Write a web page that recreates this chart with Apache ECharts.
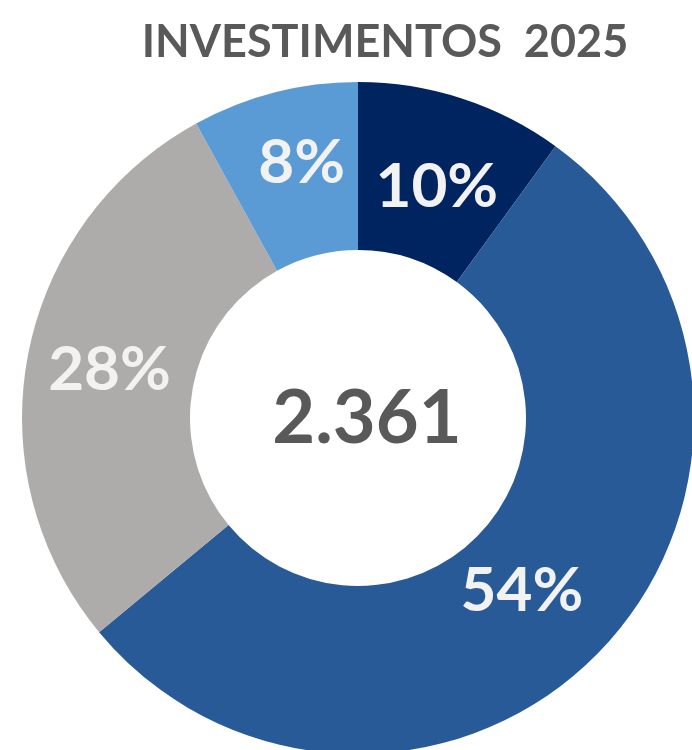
<!DOCTYPE html>
<html>
<head>
<meta charset="utf-8">
<script src="https://cdn.jsdelivr.net/npm/echarts@6/dist/echarts.min.js"></script>
<style>
  html, body { margin: 0; padding: 0; background: #ffffff; }
  #chart { width: 692px; height: 750px; }
</style>
</head>
<body>
<div id="chart"></div>
<script>
// Investment split for 2025, in clockwise order from the top
const categories = ['A', 'B', 'C', 'D'];
const shares = [10, 54, 28, 8];
const sliceColors = ['#002460', '#285A98', '#AEABAB', '#5A9BD5'];
const totalLabel = '2.361';
const chartTitle = 'INVESTIMENTOS  2025';

const FONT = 'Lato, "Open Sans", sans-serif';

// Small nudges for the percentage labels inside each slice
const labelNudge = [[0, 12], [-22, -2], [2, 0], [7, -8]];

const chart = echarts.init(document.getElementById('chart'), null, { renderer: 'canvas' });

chart.setOption({
  backgroundColor: '#ffffff',
  animation: false,
  title: [
    {
      text: chartTitle,
      left: 380,
      top: 15,
      textAlign: 'center',
      textStyle: { fontFamily: FONT, fontWeight: 'bold', fontSize: 45, color: '#595959' }
    },
    {
      text: totalLabel,
      left: 362,
      top: 377,
      textAlign: 'center',
      textStyle: { fontFamily: FONT, fontWeight: 'bold', fontSize: 74, color: '#595959' }
    }
  ],
  series: [{
    type: 'pie',
    center: [358, 418],
    radius: [168, 336],
    startAngle: 90,
    clockwise: true,
    silent: true,
    label: {
      show: true,
      position: 'inside',
      formatter: '{c}%',
      fontFamily: FONT,
      fontWeight: 'bold',
      fontSize: 62,
      color: '#F2F2F2'
    },
    labelLayout: function (params) {
      const n = labelNudge[params.dataIndex] || [0, 0];
      return { dx: n[0], dy: n[1] };
    },
    labelLine: { show: false },
    itemStyle: { borderWidth: 0 },
    data: categories.map((name, i) => ({
      name,
      value: shares[i],
      itemStyle: { color: sliceColors[i] }
    }))
  }]
});
</script>
</body>
</html>
